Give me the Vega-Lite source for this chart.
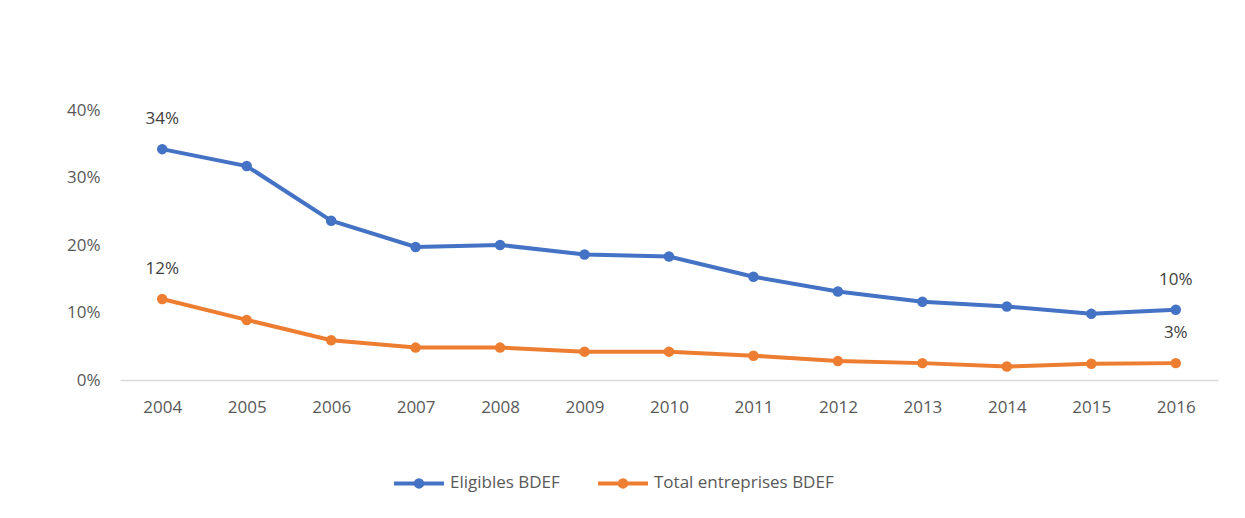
{
  "$schema": "https://vega.github.io/schema/vega-lite/v6.json",
  "width": 1098,
  "height": 270,
  "autosize": {"type": "none"},
  "padding": {"left": 120, "top": 110, "right": 27, "bottom": 138},
  "background": "white",
  "config": {
    "font": "Open Sans",
    "view": {"stroke": null},
    "axis": {"labelColor": "#595959", "labelFontSize": 17, "labelFont": "Open Sans", "title": null}
  },
  "data": {
    "values": [
      {"year": "2004", "series": "Eligibles BDEF", "value": 0.342, "label": "34%"},
      {"year": "2005", "series": "Eligibles BDEF", "value": 0.317, "label": ""},
      {"year": "2006", "series": "Eligibles BDEF", "value": 0.236, "label": ""},
      {"year": "2007", "series": "Eligibles BDEF", "value": 0.197, "label": ""},
      {"year": "2008", "series": "Eligibles BDEF", "value": 0.200, "label": ""},
      {"year": "2009", "series": "Eligibles BDEF", "value": 0.186, "label": ""},
      {"year": "2010", "series": "Eligibles BDEF", "value": 0.183, "label": ""},
      {"year": "2011", "series": "Eligibles BDEF", "value": 0.153, "label": ""},
      {"year": "2012", "series": "Eligibles BDEF", "value": 0.131, "label": ""},
      {"year": "2013", "series": "Eligibles BDEF", "value": 0.116, "label": ""},
      {"year": "2014", "series": "Eligibles BDEF", "value": 0.109, "label": ""},
      {"year": "2015", "series": "Eligibles BDEF", "value": 0.098, "label": ""},
      {"year": "2016", "series": "Eligibles BDEF", "value": 0.104, "label": "10%"},
      {"year": "2004", "series": "Total entreprises BDEF", "value": 0.120, "label": "12%"},
      {"year": "2005", "series": "Total entreprises BDEF", "value": 0.089, "label": ""},
      {"year": "2006", "series": "Total entreprises BDEF", "value": 0.059, "label": ""},
      {"year": "2007", "series": "Total entreprises BDEF", "value": 0.048, "label": ""},
      {"year": "2008", "series": "Total entreprises BDEF", "value": 0.048, "label": ""},
      {"year": "2009", "series": "Total entreprises BDEF", "value": 0.042, "label": ""},
      {"year": "2010", "series": "Total entreprises BDEF", "value": 0.042, "label": ""},
      {"year": "2011", "series": "Total entreprises BDEF", "value": 0.036, "label": ""},
      {"year": "2012", "series": "Total entreprises BDEF", "value": 0.028, "label": ""},
      {"year": "2013", "series": "Total entreprises BDEF", "value": 0.025, "label": ""},
      {"year": "2014", "series": "Total entreprises BDEF", "value": 0.020, "label": ""},
      {"year": "2015", "series": "Total entreprises BDEF", "value": 0.024, "label": ""},
      {"year": "2016", "series": "Total entreprises BDEF", "value": 0.025, "label": "3%"}
    ]
  },
  "encoding": {
    "x": {
      "field": "year", "type": "ordinal",
      "scale": {"type": "point", "padding": 0.5},
      "axis": {"labelAngle": 0, "ticks": false, "domainColor": "#d9d9d9", "domainWidth": 1.5, "labelPadding": 19, "grid": false}
    },
    "y": {
      "field": "value", "type": "quantitative",
      "scale": {"domain": [0, 0.4], "nice": false},
      "axis": {"format": ".0%", "values": [0, 0.1, 0.2, 0.3, 0.4], "domain": false, "ticks": false, "grid": false, "labelPadding": 20}
    },
    "color": {
      "field": "series", "type": "nominal",
      "scale": {"domain": ["Eligibles BDEF", "Total entreprises BDEF"], "range": ["#4472C4", "#ED7D31"]},
      "legend": {
        "title": null, "orient": "none", "direction": "horizontal",
        "legendX": 272, "legendY": 346,
        "symbolType": "M-1,0L1,0M0.13,0A0.13,0.13,0,1,1,-0.13,0A0.13,0.13,0,1,1,0.13,0Z",
        "symbolSize": 2500, "symbolStrokeWidth": 4,
        "labelFontSize": 17, "labelColor": "#595959", "labelFont": "Open Sans",
        "labelLimit": 400,
        "columnPadding": 30, "labelOffset": 4
      }
    }
  },
  "layer": [
    {"mark": {"type": "line", "strokeWidth": 4}},
    {"mark": {"type": "point", "filled": true, "size": 110, "opacity": 1}},
    {
      "mark": {"type": "text", "dy": -30, "fontSize": 17, "font": "Open Sans"},
      "encoding": {"text": {"field": "label"}, "color": {"value": "#404040"}}
    }
  ]
}
